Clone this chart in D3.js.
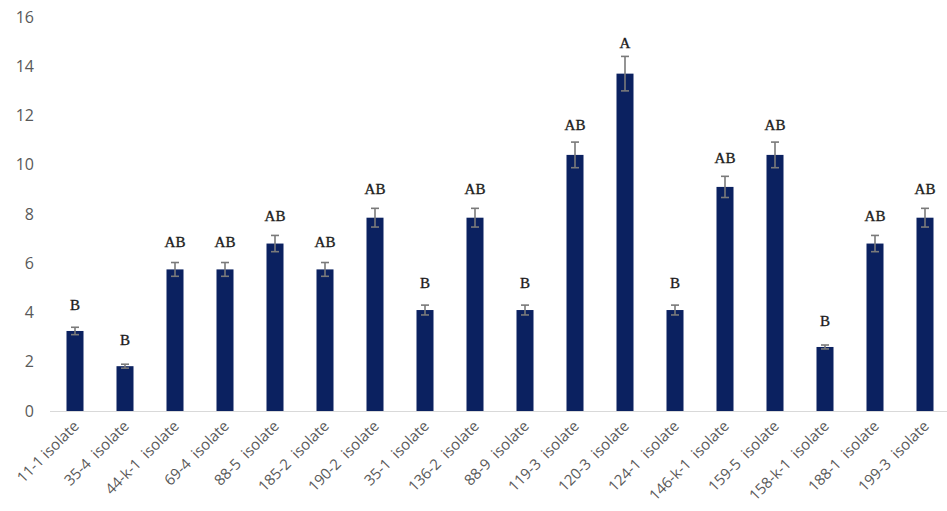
<!DOCTYPE html>
<html>
<head>
<meta charset="utf-8">
<script src="https://cdn.jsdelivr.net/npm/d3@7"></script>
<style>
  html, body { margin: 0; padding: 0; background: #fff; }
  svg { display: block; }
</style>
</head>
<body>
<svg id="chart" width="947" height="511"></svg>
<script>
const isolates = ["11-1 isolate", "35-4  isolate", "44-k-1  isolate", "69-4  isolate", "88-5  isolate",
  "185-2  isolate", "190-2  isolate", "35-1  isolate", "136-2  isolate", "88-9  isolate",
  "119-3  isolate", "120-3  isolate", "124-1  isolate", "146-k-1  isolate", "159-5  isolate",
  "158-k-1  isolate", "188-1  isolate", "199-3  isolate"];
const means = [3.25, 1.82, 5.75, 5.75, 6.8, 5.75, 7.85, 4.1, 7.85, 4.1, 10.4, 13.7, 4.1, 9.1, 10.4, 2.6, 6.8, 7.85];
const errors = [0.15, 0.08, 0.28, 0.28, 0.33, 0.28, 0.38, 0.2, 0.38, 0.2, 0.52, 0.7, 0.2, 0.43, 0.52, 0.08, 0.33, 0.38];
const groups = ["B", "B", "AB", "AB", "AB", "AB", "AB", "B", "AB", "B", "AB", "A", "B", "AB", "AB", "B", "AB", "AB"];
const yTicks = [0, 2, 4, 6, 8, 10, 12, 14, 16];

const svg = d3.select("#chart");
const margin = { left: 50, right: -3 };
const width = 947;

const x = d3.scaleBand().domain(isolates)
  .range([margin.left, width - margin.right]).paddingInner(0.66).paddingOuter(0.33);
const y = d3.scaleLinear().domain([0, 16]).range([411, 17]);

// y tick labels
const yAxis = svg.append("g").attr("transform", `translate(${margin.left},0)`)
  .call(d3.axisLeft(y).tickValues(yTicks).tickSize(0).tickPadding(16));
yAxis.select(".domain").remove();
yAxis.selectAll("text").attr("font-family", "'Open Sans', 'Liberation Sans', sans-serif")
  .attr("font-size", 16).attr("fill", "#595959");

// bars
svg.append("g").selectAll("rect").data(isolates).join("rect")
  .attr("x", d => x(d))
  .attr("width", x.bandwidth())
  .attr("y", (d, i) => y(means[i]))
  .attr("height", (d, i) => y(0) - y(means[i]))
  .attr("fill", "#0b2160");

// baseline
svg.append("line").attr("x1", margin.left).attr("x2", width)
  .attr("y1", y(0) + 0.5).attr("y2", y(0) + 0.5)
  .attr("stroke", "#d9d9d9").attr("stroke-width", 1.2);

// error bars
const eb = svg.append("g").attr("stroke", "#7a7a7a").attr("stroke-width", 1.6).attr("fill", "none");
isolates.forEach((d, i) => {
  const cx = x(d) + x.bandwidth() / 2;
  const hi = y(means[i] + errors[i]), lo = y(means[i] - errors[i]);
  eb.append("line").attr("x1", cx).attr("x2", cx).attr("y1", hi).attr("y2", lo);
  eb.append("line").attr("x1", cx - 4).attr("x2", cx + 4).attr("y1", hi).attr("y2", hi);
  eb.append("line").attr("x1", cx - 4).attr("x2", cx + 4).attr("y1", lo).attr("y2", lo);
});

// significance letters above each bar
svg.append("g").selectAll("text").data(isolates).join("text")
  .attr("x", d => x(d) + x.bandwidth() / 2)
  .attr("y", (d, i) => y(means[i]) - 20 - 0.35 * (y(means[i]) - y(means[i] + errors[i])))
  .attr("text-anchor", "middle")
  .attr("font-family", "'Liberation Serif', 'DejaVu Serif', serif")
  .attr("font-size", 15).attr("fill", "#1a1a1a")
  .attr("stroke", "#1a1a1a").attr("stroke-width", 0.35)
  .text((d, i) => groups[i]);

// x tick labels, rotated
svg.append("g").selectAll("text").data(isolates).join("text")
  .attr("transform", d => `translate(${x(d) + x.bandwidth() / 2 + 5},${y(0) + 16}) rotate(-45)`)
  .attr("text-anchor", "end")
  .attr("font-family", "'Open Sans', 'Liberation Sans', sans-serif")
  .attr("font-size", 15).attr("fill", "#595959")
  .attr("xml:space", "preserve")
  .style("white-space", "pre")
  .text(d => d);
</script>
</body>
</html>
